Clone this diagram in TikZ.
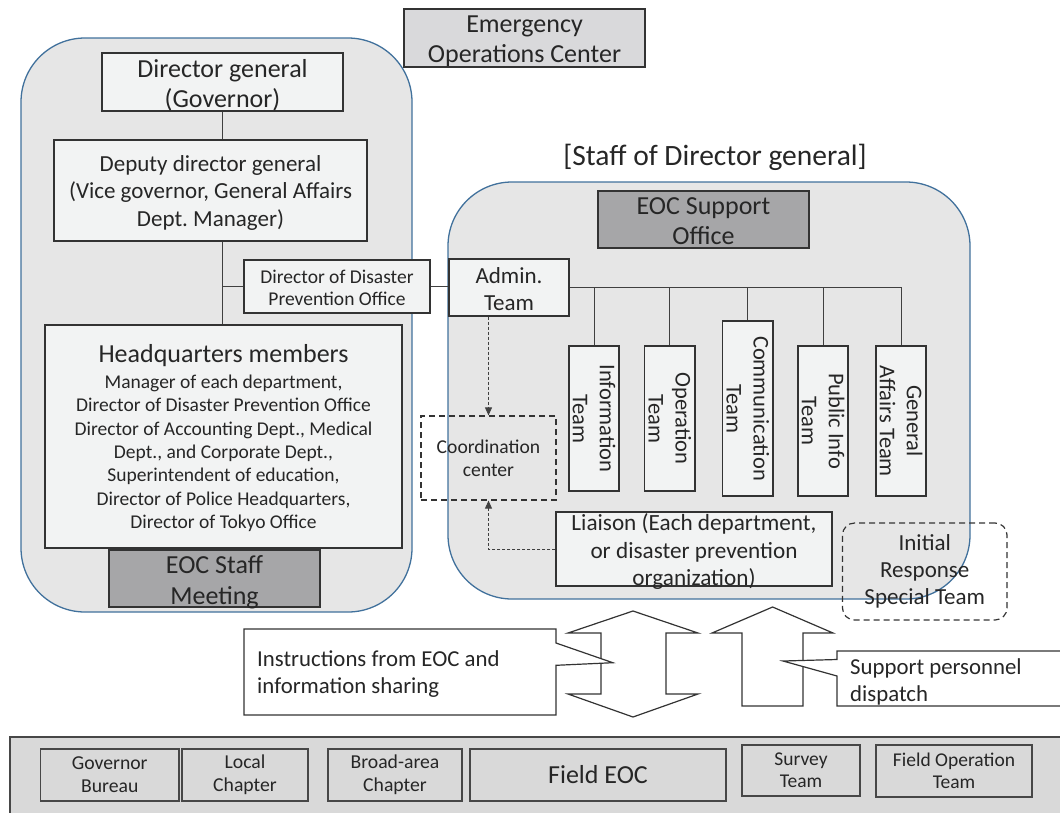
\documentclass[tikz,border=0pt]{standalone}
\usepackage{fontspec}
\setmainfont{Carlito}
\usetikzlibrary{arrows.meta}
\definecolor{boxfill}{RGB}{242,243,243}
\definecolor{boxline}{RGB}{51,51,51}
\definecolor{contfill}{RGB}{230,230,230}
\definecolor{contline}{RGB}{65,113,156}
\definecolor{darkfill}{RGB}{166,166,168}
\definecolor{lightfill}{RGB}{217,217,219}
\definecolor{bandfill}{RGB}{217,217,217}
\definecolor{txt}{RGB}{38,38,38}
\definecolor{conn}{RGB}{64,64,64}
\newcommand\fsz[2]{\fontsize{#1}{#2}\selectfont}
\frenchspacing
\begin{document}
\begin{tikzpicture}[x=1pt,y=-1pt,
  sz/.style 2 args={minimum width=#1pt, minimum height=#2pt},
  box/.style={draw=boxline, fill=boxfill, line width=1.3pt, inner sep=0pt, align=center, text=txt},
  darkbox/.style={box, fill=darkfill},
  lightbox/.style={box, fill=lightfill},
  bandbox/.style={box, fill=bandfill, draw=boxline!90},
  container/.style={draw=contline, fill=contfill, line width=1.3pt, rounded corners=64pt, inner sep=0pt},
  dashbox/.style={draw=boxline, line width=1.2pt, dash pattern=on 6pt off 4pt, inner sep=0pt, align=center, text=txt},
  conn/.style={draw=conn, line width=1pt},
  dotarrow/.style={draw=conn, line width=0.8pt, dash pattern=on 3pt off 2pt, -{Triangle[length=8pt,width=7pt,sep=0pt]}},
  bigarrow/.style={draw=boxline, fill=white, line width=1.2pt, line join=miter},
  plain/.style={inner sep=0pt, text=txt},
  btext/.style={plain, align=center},
  vtext/.style={plain, rotate=-90, align=center, font=\fsz{22.5}{27}}
]
\useasboundingbox (0,0) rectangle (1060,812);

% containers
\node[container, sz={391}{574}] (leftc) at (216.5,325) {};
\node[container, sz={522}{417}] (rightc) at (709,390.5) {};

% top title
\node[lightbox, sz={241}{58}] (eoc) at (524.5,38) {};
\node[btext, font=\fsz{26}{30}] (eoct) at ([yshift=-3pt]eoc.center) {Emergency\\Operations Center};

% left side
\node[box, sz={241}{58}] (dg) at (222.5,82) {};
\node[btext, font=\fsz{26}{30}] (dgt) at ([yshift=-3pt]dg.center) {Director general\\(Governor)};
\node[box, sz={313}{101}] (deputy) at (210.5,190.5) {};
\node[btext, font=\fsz{23}{27.5}] (deputyt) at ([yshift=-2pt]deputy.center) {Deputy director general\\(Vice governor, General Affairs\\Dept. Manager)};
\node[box, sz={186}{53}] (dpo) at (337,286.5) {};
\node[btext, font=\fsz{19.5}{22.5}] (dpot) at ([yshift=-1.5pt]dpo.center) {Director of Disaster\\Prevention Office};
\node[box, sz={357}{223}] (hq) at (223.5,436.5) {};
\node[btext, font=\fsz{19.5}{23.3}] (hqt) at ([yshift=-1.5pt]hq.center) {{\fsz{26}{31}Headquarters members}\\[2.7pt]Manager of each department,\\Director of Disaster Prevention Office\\Director of Accounting Dept., Medical\\Dept., and Corporate Dept.,\\Superintendent of education,\\Director of Police Headquarters,\\Director of Tokyo Office};
\node[darkbox, sz={211}{57}] (staffmtg) at (214.5,578.5) {};
\node[btext, font=\fsz{26}{31}] (staffmtgt) at ([yshift=-4pt]staffmtg.center) {EOC Staff\\Meeting};

% right side
\node[plain, anchor=base, font=\fsz{29.5}{34}] (stafftitle) at (715,165) {[Staff of Director general]};
\node[darkbox, sz={211}{57}] (support) at (703.5,219.5) {};
\node[btext, font=\fsz{26}{30}] (supportt) at ([yshift=-1.5pt]support.center) {EOC Support\\Office};
\node[box, sz={120}{57}] (admin) at (509,287.5) {};
\node[btext, font=\fsz{23}{27}] (admint) at ([yshift=-2pt]admin.center) {Admin.\\Team};

\node[box, sz={50}{145}] (info) at (594,418.5) {};
\node[box, sz={50.5}{145}] (oper) at (669.75,418.5) {};
\node[box, sz={50.4}{175}] (comm) at (747.8,408.5) {};
\node[box, sz={50}{150}] (pub) at (823,421) {};
\node[box, sz={50}{150}] (ga) at (901,421) {};
\node[vtext] (infot) at (info.center) {Information\\Team};
\node[vtext] (opert) at (oper.center) {Operation\\Team};
\node[vtext] (commt) at (comm.center) {Communication\\Team};
\node[vtext] (pubt) at (pub.center) {Public Info\\Team};
\node[vtext] (gat) at (ga.center) {General\\Affairs Team};

\node[box, sz={276}{74}] (liaison) at (694,549) {};
\node[btext, font=\fsz{23.2}{27.5}] (liaisont) at ([yshift=-3pt]liaison.center) {Liaison (Each department,\\or disaster prevention\\organization)};
\node[dashbox, sz={135}{84}, font=\fsz{19.6}{22.7}] (coord) at (488.5,458) {Coordination\\center};
\node[dashbox, rounded corners=12pt, sz={164.5}{97}, font=\fsz{23}{27.3}] (initial) at (924.75,571.5) {Initial\\Response\\Special Team};

% connectors
\draw[conn] (dg.south) -- (dg.south |- deputy.north);
\draw[conn] (deputy.south -| dg.south) -- (hq.north -| dg.south);
\draw[conn] (dpo.west -| dg.south) -- (dpo.west);
\draw[conn] (dpo.east) -- (dpo.east -| admin.west);
\draw[conn] (admin.east) -| (ga.north);
\foreach \t in {info,oper,comm,pub} \draw[conn] (\t.north) -- (\t.north |- admin.east);
\draw[dotarrow] (coord.north |- admin.south) -- (coord.north);
\draw[dotarrow] (liaison.west) -| (coord.south);

% big arrows
\draw[bigarrow] (633,611) -- (698,633) -- (666,633) -- (666,694) -- (698,694) -- (633,717) -- (568,694) -- (601,694) -- (601,633) -- (568,633) -- cycle;
\draw[bigarrow] (772.6,607) -- (833,633) -- (803,633) -- (803,706) -- (742,706) -- (742,633) -- (712,633) -- cycle;

% callouts
\draw[bigarrow] (244,629) -- (556,629) -- (556,643) -- (612.8,662.7) -- (556,665.3) -- (556,715) -- (244,715) -- cycle;
\node[plain, anchor=west, align=left, font=\fsz{22.8}{27}] (instrtext) at (257,674) {Instructions from EOC and\\information sharing};
\draw[bigarrow] (1080,651) -- (837,651) -- (837,659.5) -- (783,661) -- (837,676) -- (837,706) -- (1080,706);
\node[plain, anchor=west, align=left, font=\fsz{22.8}{27}] (supporttext) at (850,681.5) {Support personnel\\dispatch};

% bottom band
\draw[draw=boxline!90, fill=bandfill, line width=1.5pt] (10,737) rectangle (1080,830);
\node[bandbox, sz={138.5}{52}, font=\fsz{19.7}{22.7}] (gov) at (109.75,775) {Governor\\Bureau};
\node[bandbox, sz={126}{52}, font=\fsz{19.7}{22.7}] (local) at (245,775) {Local\\Chapter};
\node[bandbox, sz={134}{52}, font=\fsz{19.7}{22.7}] (broad) at (395,775) {Broad-area\\Chapter};
\node[bandbox, sz={256}{52}, font=\fsz{26}{30}] (fieldeoc) at (598,775) {Field EOC};
\node[bandbox, sz={118}{51}, font=\fsz{19.5}{22}] (survey) at (801,770.5) {Survey\\Team};
\node[bandbox, sz={156}{52}, font=\fsz{19.5}{22}] (fieldop) at (954,771) {Field Operation\\Team};
\end{tikzpicture}
\end{document}
